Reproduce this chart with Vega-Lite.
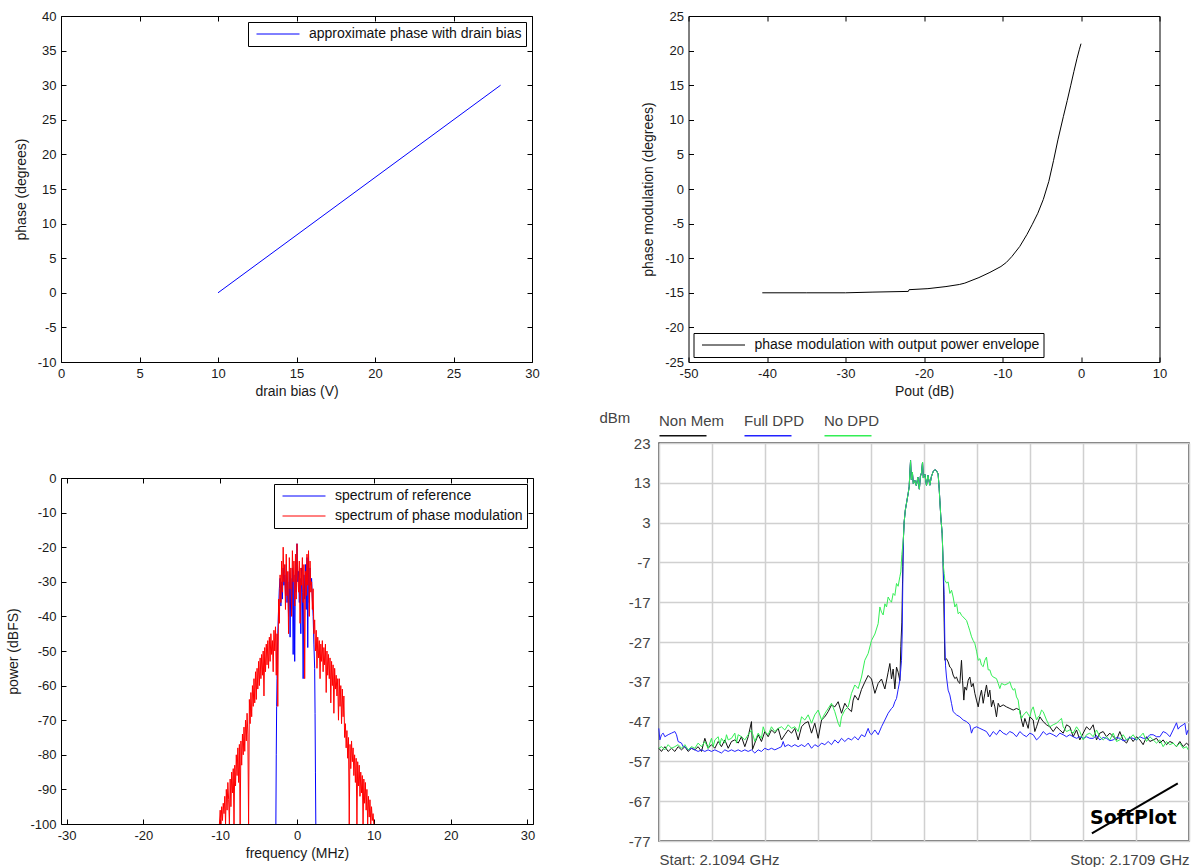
{
  "$schema": "https://vega.github.io/schema/vega-lite/v6.json",
  "background": "white",
  "padding": {"left": 6, "top": 9, "right": 0, "bottom": 0},
  "config": {
    "font": "Liberation Sans",
    "view": {"stroke": "black", "strokeWidth": 1},
    "axis": {"domain": false, "grid": false, "tickSize": -5, "tickColor": "black", "tickWidth": 1, "tickCount": 30, "labelFont": "Liberation Sans", "labelFontSize": 13, "labelColor": "#1a1a1a", "labelPadding": 10, "labelFlush": false, "labelOverlap": false, "labelExpr": "'' + datum.value", "titleFont": "Liberation Sans", "titleFontSize": 14, "titleFontWeight": "normal", "titleColor": "#1a1a1a", "titlePadding": 4},
    "axisY": {"titlePadding": 9},
    "legend": {"title": null, "strokeColor": "black", "fillColor": "white", "padding": 4, "cornerRadius": 0, "symbolType": "stroke", "symbolSize": 1849, "symbolStrokeWidth": 1, "symbolOffset": 4, "labelOffset": 9, "clipHeight": 16, "rowPadding": 4, "labelFont": "Liberation Sans", "labelFontSize": 14, "labelColor": "#111", "labelLimit": 500}
  },
  "datasets": {
    "tl": [{"bias": 10, "phase": 0}, {"bias": 28, "phase": 30}],
    "tr": [
      {"pout": -40.6, "phase": -15.0}, {"pout": -35, "phase": -15.0}, {"pout": -30, "phase": -15.0}, {"pout": -26.5, "phase": -14.9}, {"pout": -22, "phase": -14.8}, {"pout": -21.9, "phase": -14.55}, {"pout": -19.5, "phase": -14.4}, {"pout": -17.2, "phase": -14.1}, {"pout": -15.5, "phase": -13.8}, {"pout": -14.8, "phase": -13.6}, {"pout": -13, "phase": -12.8}, {"pout": -11.6, "phase": -12.05}, {"pout": -10.2, "phase": -11.2}, {"pout": -9.5, "phase": -10.6}, {"pout": -8.8, "phase": -9.75}, {"pout": -7.8, "phase": -8.3}, {"pout": -6.9, "phase": -6.6}, {"pout": -6.2, "phase": -5.1}, {"pout": -5.5, "phase": -3.5}, {"pout": -4.8, "phase": -1.5}, {"pout": -4.1, "phase": 1.1}, {"pout": -3.5, "phase": 4.1}, {"pout": -2.94, "phase": 7.1}, {"pout": -2.24, "phase": 10.5}, {"pout": -1.75, "phase": 12.8}, {"pout": -1.3, "phase": 15.0}, {"pout": -0.9, "phase": 17.0}, {"pout": -0.5, "phase": 18.9}, {"pout": -0.2, "phase": 20.2}, {"pout": 0, "phase": 21.0}
    ],
    "ref": [
      {"freq": -2.75, "power": -100}, {"freq": -2.7, "power": -80}, {"freq": -2.65, "power": -66}, {"freq": -2.6, "power": -58}, {"freq": -2.5, "power": -45}, {"freq": -2.4, "power": -38}, {"freq": -2.3, "power": -32}, {"freq": -2.2, "power": -29}, {"freq": -2.1, "power": -37}, {"freq": -2.0, "power": -30}, {"freq": -1.9, "power": -35}, {"freq": -1.8, "power": -26}, {"freq": -1.7, "power": -31}, {"freq": -1.6, "power": -28}, {"freq": -1.5, "power": -34}, {"freq": -1.4, "power": -25}, {"freq": -1.3, "power": -36}, {"freq": -1.2, "power": -30}, {"freq": -1.1, "power": -40}, {"freq": -1.0, "power": -27}, {"freq": -0.9, "power": -46}, {"freq": -0.8, "power": -29}, {"freq": -0.7, "power": -38}, {"freq": -0.6, "power": -26}, {"freq": -0.5, "power": -51}, {"freq": -0.4, "power": -28}, {"freq": -0.3, "power": -53}, {"freq": -0.2, "power": -24}, {"freq": -0.1, "power": -33}, {"freq": 0.0, "power": -19}, {"freq": 0.1, "power": -30}, {"freq": 0.2, "power": -27}, {"freq": 0.3, "power": -36}, {"freq": 0.4, "power": -29}, {"freq": 0.5, "power": -45}, {"freq": 0.6, "power": -26}, {"freq": 0.7, "power": -33}, {"freq": 0.8, "power": -58}, {"freq": 0.9, "power": -28}, {"freq": 1.0, "power": -35}, {"freq": 1.1, "power": -25}, {"freq": 1.2, "power": -38}, {"freq": 1.3, "power": -23}, {"freq": 1.4, "power": -49}, {"freq": 1.5, "power": -22}, {"freq": 1.6, "power": -36}, {"freq": 1.7, "power": -26}, {"freq": 1.8, "power": -31}, {"freq": 1.9, "power": -29}, {"freq": 2.0, "power": -35}, {"freq": 2.1, "power": -40}, {"freq": 2.2, "power": -48}, {"freq": 2.3, "power": -55}, {"freq": 2.35, "power": -68}, {"freq": 2.4, "power": -85}, {"freq": 2.45, "power": -100}
    ],
    "pm": [
      {"freq": -10.1, "power": -100}, {"freq": -10.0, "power": -96}, {"freq": -9.9, "power": -100}, {"freq": -9.8, "power": -95}, {"freq": -9.7, "power": -99}, {"freq": -9.6, "power": -94}, {"freq": -9.5, "power": -97}, {"freq": -9.4, "power": -92}, {"freq": -9.3, "power": -100}, {"freq": -9.2, "power": -90}, {"freq": -9.1, "power": -96}, {"freq": -9.0, "power": -88}, {"freq": -8.9, "power": -93}, {"freq": -8.8, "power": -100}, {"freq": -8.7, "power": -87}, {"freq": -8.6, "power": -95}, {"freq": -8.5, "power": -85}, {"freq": -8.4, "power": -91}, {"freq": -8.3, "power": -84}, {"freq": -8.2, "power": -100}, {"freq": -8.1, "power": -83}, {"freq": -8.0, "power": -89}, {"freq": -7.9, "power": -80}, {"freq": -7.8, "power": -86}, {"freq": -7.7, "power": -78}, {"freq": -7.6, "power": -88}, {"freq": -7.5, "power": -77}, {"freq": -7.4, "power": -100}, {"freq": -7.3, "power": -76}, {"freq": -7.2, "power": -83}, {"freq": -7.1, "power": -74}, {"freq": -7.0, "power": -80}, {"freq": -6.9, "power": -72}, {"freq": -6.8, "power": -79}, {"freq": -6.7, "power": -70}, {"freq": -6.6, "power": -76}, {"freq": -6.5, "power": -68}, {"freq": -6.4, "power": -74}, {"freq": -6.3, "power": -100}, {"freq": -6.2, "power": -64}, {"freq": -6.1, "power": -71}, {"freq": -6.0, "power": -62}, {"freq": -5.9, "power": -69}, {"freq": -5.8, "power": -60}, {"freq": -5.7, "power": -66}, {"freq": -5.6, "power": -58}, {"freq": -5.5, "power": -65}, {"freq": -5.4, "power": -56}, {"freq": -5.3, "power": -64}, {"freq": -5.2, "power": -55}, {"freq": -5.1, "power": -61}, {"freq": -5.0, "power": -53}, {"freq": -4.9, "power": -60}, {"freq": -4.8, "power": -52}, {"freq": -4.7, "power": -58}, {"freq": -4.6, "power": -51}, {"freq": -4.5, "power": -57}, {"freq": -4.4, "power": -50}, {"freq": -4.3, "power": -63}, {"freq": -4.2, "power": -49}, {"freq": -4.1, "power": -56}, {"freq": -4.0, "power": -48}, {"freq": -3.9, "power": -54}, {"freq": -3.8, "power": -47}, {"freq": -3.7, "power": -55}, {"freq": -3.6, "power": -46}, {"freq": -3.5, "power": -53}, {"freq": -3.4, "power": -45}, {"freq": -3.3, "power": -51}, {"freq": -3.2, "power": -47}, {"freq": -3.1, "power": -56}, {"freq": -3.0, "power": -44}, {"freq": -2.9, "power": -50}, {"freq": -2.8, "power": -43}, {"freq": -2.7, "power": -57}, {"freq": -2.6, "power": -45}, {"freq": -2.5, "power": -66}, {"freq": -2.4, "power": -35}, {"freq": -2.3, "power": -42}, {"freq": -2.2, "power": -28}, {"freq": -2.1, "power": -36}, {"freq": -2.0, "power": -24}, {"freq": -1.9, "power": -33}, {"freq": -1.8, "power": -20}, {"freq": -1.7, "power": -30}, {"freq": -1.6, "power": -25}, {"freq": -1.5, "power": -38}, {"freq": -1.4, "power": -22}, {"freq": -1.3, "power": -34}, {"freq": -1.2, "power": -27}, {"freq": -1.1, "power": -45}, {"freq": -1.0, "power": -23}, {"freq": -0.9, "power": -32}, {"freq": -0.8, "power": -26}, {"freq": -0.7, "power": -40}, {"freq": -0.6, "power": -21}, {"freq": -0.5, "power": -30}, {"freq": -0.4, "power": -24}, {"freq": -0.3, "power": -37}, {"freq": -0.2, "power": -22}, {"freq": -0.1, "power": -35}, {"freq": 0.0, "power": -19}, {"freq": 0.1, "power": -28}, {"freq": 0.2, "power": -33}, {"freq": 0.3, "power": -24}, {"freq": 0.4, "power": -42}, {"freq": 0.5, "power": -26}, {"freq": 0.6, "power": -31}, {"freq": 0.7, "power": -23}, {"freq": 0.8, "power": -36}, {"freq": 0.9, "power": -25}, {"freq": 1.0, "power": -58}, {"freq": 1.1, "power": -27}, {"freq": 1.2, "power": -34}, {"freq": 1.3, "power": -22}, {"freq": 1.4, "power": -31}, {"freq": 1.5, "power": -21}, {"freq": 1.6, "power": -40}, {"freq": 1.7, "power": -24}, {"freq": 1.8, "power": -33}, {"freq": 1.9, "power": -30}, {"freq": 2.0, "power": -38}, {"freq": 2.1, "power": -32}, {"freq": 2.2, "power": -45}, {"freq": 2.3, "power": -41}, {"freq": 2.4, "power": -50}, {"freq": 2.5, "power": -44}, {"freq": 2.6, "power": -55}, {"freq": 2.7, "power": -46}, {"freq": 2.8, "power": -52}, {"freq": 2.9, "power": -47}, {"freq": 3.0, "power": -58}, {"freq": 3.1, "power": -48}, {"freq": 3.2, "power": -53}, {"freq": 3.3, "power": -47}, {"freq": 3.4, "power": -56}, {"freq": 3.5, "power": -49}, {"freq": 3.6, "power": -54}, {"freq": 3.7, "power": -48}, {"freq": 3.8, "power": -62}, {"freq": 3.9, "power": -50}, {"freq": 4.0, "power": -57}, {"freq": 4.1, "power": -51}, {"freq": 4.2, "power": -58}, {"freq": 4.3, "power": -52}, {"freq": 4.4, "power": -65}, {"freq": 4.5, "power": -53}, {"freq": 4.6, "power": -60}, {"freq": 4.7, "power": -54}, {"freq": 4.8, "power": -68}, {"freq": 4.9, "power": -55}, {"freq": 5.0, "power": -61}, {"freq": 5.1, "power": -57}, {"freq": 5.2, "power": -63}, {"freq": 5.3, "power": -58}, {"freq": 5.4, "power": -70}, {"freq": 5.5, "power": -58}, {"freq": 5.6, "power": -66}, {"freq": 5.7, "power": -60}, {"freq": 5.8, "power": -71}, {"freq": 5.9, "power": -61}, {"freq": 6.0, "power": -69}, {"freq": 6.1, "power": -63}, {"freq": 6.2, "power": -75}, {"freq": 6.3, "power": -71}, {"freq": 6.4, "power": -78}, {"freq": 6.5, "power": -73}, {"freq": 6.6, "power": -81}, {"freq": 6.7, "power": -75}, {"freq": 6.8, "power": -100}, {"freq": 6.9, "power": -77}, {"freq": 7.0, "power": -84}, {"freq": 7.1, "power": -76}, {"freq": 7.2, "power": -82}, {"freq": 7.3, "power": -78}, {"freq": 7.4, "power": -86}, {"freq": 7.5, "power": -80}, {"freq": 7.6, "power": -88}, {"freq": 7.7, "power": -81}, {"freq": 7.8, "power": -100}, {"freq": 7.9, "power": -82}, {"freq": 8.0, "power": -89}, {"freq": 8.1, "power": -83}, {"freq": 8.2, "power": -92}, {"freq": 8.3, "power": -85}, {"freq": 8.4, "power": -91}, {"freq": 8.5, "power": -86}, {"freq": 8.6, "power": -100}, {"freq": 8.7, "power": -87}, {"freq": 8.8, "power": -94}, {"freq": 8.9, "power": -88}, {"freq": 9.0, "power": -96}, {"freq": 9.1, "power": -90}, {"freq": 9.2, "power": -100}, {"freq": 9.3, "power": -92}, {"freq": 9.4, "power": -98}, {"freq": 9.5, "power": -93}, {"freq": 9.6, "power": -100}, {"freq": 9.7, "power": -95}, {"freq": 9.8, "power": -99}, {"freq": 9.9, "power": -97}, {"freq": 10.0, "power": -100}
    ],
    "nonmem": [
      {"freq": 2109.38, "dbm": -53.7}, {"freq": 2109.69, "dbm": -54.5}, {"freq": 2110.08, "dbm": -53.3}, {"freq": 2110.46, "dbm": -54.5}, {"freq": 2110.85, "dbm": -53.7}, {"freq": 2111.24, "dbm": -54.5}, {"freq": 2111.62, "dbm": -53.3}, {"freq": 2112.01, "dbm": -54.1}, {"freq": 2112.40, "dbm": -53.3}, {"freq": 2112.78, "dbm": -54.5}, {"freq": 2113.17, "dbm": -53.7}, {"freq": 2113.56, "dbm": -54.1}, {"freq": 2113.94, "dbm": -53.3}, {"freq": 2114.33, "dbm": -54.5}, {"freq": 2114.72, "dbm": -51.2}, {"freq": 2115.10, "dbm": -53.7}, {"freq": 2115.49, "dbm": -52.8}, {"freq": 2115.88, "dbm": -53.7}, {"freq": 2116.27, "dbm": -52.0}, {"freq": 2116.65, "dbm": -53.3}, {"freq": 2117.04, "dbm": -51.6}, {"freq": 2117.43, "dbm": -53.7}, {"freq": 2117.81, "dbm": -52.0}, {"freq": 2118.20, "dbm": -51.6}, {"freq": 2118.59, "dbm": -52.4}, {"freq": 2118.97, "dbm": -50.8}, {"freq": 2119.36, "dbm": -53.3}, {"freq": 2119.75, "dbm": -50.8}, {"freq": 2120.13, "dbm": -47.0}, {"freq": 2120.25, "dbm": -54.0}, {"freq": 2120.52, "dbm": -52.4}, {"freq": 2120.91, "dbm": -50.3}, {"freq": 2121.29, "dbm": -52.0}, {"freq": 2121.68, "dbm": -49.5}, {"freq": 2122.07, "dbm": -50.8}, {"freq": 2122.45, "dbm": -49.1}, {"freq": 2122.84, "dbm": -49.9}, {"freq": 2123.23, "dbm": -48.7}, {"freq": 2123.61, "dbm": -51.6}, {"freq": 2124.00, "dbm": -50.3}, {"freq": 2124.39, "dbm": -49.1}, {"freq": 2124.78, "dbm": -49.9}, {"freq": 2125.16, "dbm": -48.7}, {"freq": 2125.55, "dbm": -51.6}, {"freq": 2125.94, "dbm": -48.3}, {"freq": 2126.32, "dbm": -47.4}, {"freq": 2126.71, "dbm": -47.0}, {"freq": 2127.10, "dbm": -49.9}, {"freq": 2127.48, "dbm": -47.4}, {"freq": 2127.87, "dbm": -51.2}, {"freq": 2128.26, "dbm": -46.6}, {"freq": 2128.64, "dbm": -45.8}, {"freq": 2129.03, "dbm": -44.5}, {"freq": 2129.42, "dbm": -42.8}, {"freq": 2129.80, "dbm": -43.3}, {"freq": 2130.19, "dbm": -42.0}, {"freq": 2130.58, "dbm": -44.9}, {"freq": 2130.96, "dbm": -42.4}, {"freq": 2131.35, "dbm": -43.7}, {"freq": 2131.74, "dbm": -44.5}, {"freq": 2131.93, "dbm": -41.6}, {"freq": 2132.12, "dbm": -40.4}, {"freq": 2132.51, "dbm": -41.6}, {"freq": 2132.90, "dbm": -38.9}, {"freq": 2133.28, "dbm": -37.1}, {"freq": 2133.67, "dbm": -35.4}, {"freq": 2134.06, "dbm": -36.3}, {"freq": 2134.45, "dbm": -39.9}, {"freq": 2134.83, "dbm": -37.4}, {"freq": 2135.22, "dbm": -36.3}, {"freq": 2135.61, "dbm": -38.8}, {"freq": 2135.99, "dbm": -34.6}, {"freq": 2136.19, "dbm": -32.4}, {"freq": 2136.38, "dbm": -36.3}, {"freq": 2136.57, "dbm": -33.8}, {"freq": 2136.77, "dbm": -38.8}, {"freq": 2136.96, "dbm": -33.3}, {"freq": 2137.15, "dbm": -34.6}, {"freq": 2137.35, "dbm": -36.7}, {"freq": 2137.46, "dbm": -28.2}, {"freq": 2137.58, "dbm": -22.0}, {"freq": 2137.69, "dbm": -8.0},
      {"freq": 2137.75, "dbm": -1.4}, {"freq": 2137.85, "dbm": 3.2}, {"freq": 2137.98, "dbm": 6.1}, {"freq": 2138.16, "dbm": 8.4}, {"freq": 2138.31, "dbm": 10.3}, {"freq": 2138.43, "dbm": 12.0}, {"freq": 2138.51, "dbm": 15.5}, {"freq": 2138.59, "dbm": 18.6}, {"freq": 2138.68, "dbm": 13.8}, {"freq": 2138.80, "dbm": 15.7}, {"freq": 2138.91, "dbm": 12.8}, {"freq": 2139.09, "dbm": 13.6}, {"freq": 2139.26, "dbm": 12.3}, {"freq": 2139.44, "dbm": 14.4}, {"freq": 2139.61, "dbm": 11.4}, {"freq": 2139.73, "dbm": 14.6}, {"freq": 2139.86, "dbm": 15.5}, {"freq": 2139.98, "dbm": 18.2}, {"freq": 2140.07, "dbm": 14.2}, {"freq": 2140.25, "dbm": 15.1}, {"freq": 2140.44, "dbm": 12.3}, {"freq": 2140.60, "dbm": 14.9}, {"freq": 2140.83, "dbm": 12.4}, {"freq": 2141.00, "dbm": 14.5}, {"freq": 2141.21, "dbm": 15.8}, {"freq": 2141.41, "dbm": 16.3}, {"freq": 2141.61, "dbm": 16.0}, {"freq": 2141.79, "dbm": 15.2}, {"freq": 2141.91, "dbm": 11.6}, {"freq": 2141.99, "dbm": 8.6}, {"freq": 2142.10, "dbm": 4.4}, {"freq": 2142.26, "dbm": 0.2}, {"freq": 2142.37, "dbm": -7.3},
      {"freq": 2142.49, "dbm": -22.0}, {"freq": 2142.57, "dbm": -31.6}, {"freq": 2142.76, "dbm": -31.2}, {"freq": 2142.95, "dbm": -32.0}, {"freq": 2143.15, "dbm": -33.3}, {"freq": 2143.34, "dbm": -33.7}, {"freq": 2143.53, "dbm": -35.3}, {"freq": 2143.73, "dbm": -36.2}, {"freq": 2143.92, "dbm": -35.8}, {"freq": 2144.12, "dbm": -37.0}, {"freq": 2144.31, "dbm": -37.4}, {"freq": 2144.50, "dbm": -31.6}, {"freq": 2144.62, "dbm": -36.6}, {"freq": 2144.77, "dbm": -41.6}, {"freq": 2144.89, "dbm": -38.3}, {"freq": 2145.08, "dbm": -39.1}, {"freq": 2145.28, "dbm": -36.6}, {"freq": 2145.47, "dbm": -35.8}, {"freq": 2145.66, "dbm": -38.3}, {"freq": 2145.86, "dbm": -37.4}, {"freq": 2146.05, "dbm": -39.9}, {"freq": 2146.24, "dbm": -41.6}, {"freq": 2146.44, "dbm": -43.3}, {"freq": 2146.63, "dbm": -40.8}, {"freq": 2146.82, "dbm": -39.1}, {"freq": 2147.02, "dbm": -42.4}, {"freq": 2147.21, "dbm": -39.9}, {"freq": 2147.40, "dbm": -37.8}, {"freq": 2147.60, "dbm": -40.8}, {"freq": 2147.79, "dbm": -39.1}, {"freq": 2147.98, "dbm": -43.3}, {"freq": 2148.18, "dbm": -41.6}, {"freq": 2148.37, "dbm": -43.3}, {"freq": 2148.56, "dbm": -45.8}, {"freq": 2148.76, "dbm": -42.4}, {"freq": 2148.95, "dbm": -43.3}, {"freq": 2149.34, "dbm": -42.8}, {"freq": 2149.72, "dbm": -43.3}, {"freq": 2150.11, "dbm": -43.7}, {"freq": 2150.50, "dbm": -44.1}, {"freq": 2150.88, "dbm": -43.7}, {"freq": 2151.27, "dbm": -44.1}, {"freq": 2151.46, "dbm": -46.6}, {"freq": 2151.66, "dbm": -48.3}, {"freq": 2151.85, "dbm": -46.2}, {"freq": 2152.04, "dbm": -47.4}, {"freq": 2152.24, "dbm": -48.7}, {"freq": 2152.43, "dbm": -45.8}, {"freq": 2152.82, "dbm": -46.6}, {"freq": 2153.01, "dbm": -49.5}, {"freq": 2153.21, "dbm": -48.3}, {"freq": 2153.59, "dbm": -45.8}, {"freq": 2153.98, "dbm": -47.0}, {"freq": 2154.37, "dbm": -47.8}, {"freq": 2154.75, "dbm": -48.3}, {"freq": 2155.14, "dbm": -49.5}, {"freq": 2155.53, "dbm": -48.3}, {"freq": 2155.91, "dbm": -49.1}, {"freq": 2156.30, "dbm": -49.9}, {"freq": 2156.69, "dbm": -47.8}, {"freq": 2157.07, "dbm": -48.3}, {"freq": 2157.46, "dbm": -50.8}, {"freq": 2157.85, "dbm": -49.1}, {"freq": 2158.23, "dbm": -51.6}, {"freq": 2158.62, "dbm": -49.9}, {"freq": 2159.01, "dbm": -48.3}, {"freq": 2159.39, "dbm": -49.1}, {"freq": 2159.78, "dbm": -47.8}, {"freq": 2160.17, "dbm": -51.6}, {"freq": 2160.55, "dbm": -49.9}, {"freq": 2160.94, "dbm": -49.5}, {"freq": 2161.33, "dbm": -50.8}, {"freq": 2161.71, "dbm": -49.9}, {"freq": 2162.10, "dbm": -50.8}, {"freq": 2162.49, "dbm": -51.6}, {"freq": 2162.87, "dbm": -49.5}, {"freq": 2163.26, "dbm": -51.6}, {"freq": 2163.65, "dbm": -52.4}, {"freq": 2164.03, "dbm": -50.8}, {"freq": 2164.42, "dbm": -52.0}, {"freq": 2164.81, "dbm": -50.8}, {"freq": 2165.20, "dbm": -51.6}, {"freq": 2165.58, "dbm": -52.8}, {"freq": 2165.97, "dbm": -50.8}, {"freq": 2166.36, "dbm": -52.0}, {"freq": 2166.74, "dbm": -51.6}, {"freq": 2167.13, "dbm": -51.2}, {"freq": 2167.52, "dbm": -52.4}, {"freq": 2167.90, "dbm": -51.6}, {"freq": 2168.29, "dbm": -52.8}, {"freq": 2168.68, "dbm": -52.0}, {"freq": 2169.06, "dbm": -52.4}, {"freq": 2169.45, "dbm": -53.3}, {"freq": 2169.84, "dbm": -52.0}, {"freq": 2170.22, "dbm": -53.3}, {"freq": 2170.61, "dbm": -52.4}, {"freq": 2170.90, "dbm": -53.0}
    ],
    "fulldpd": [
      {"freq": 2109.38, "dbm": -48.7}, {"freq": 2109.50, "dbm": -51.6}, {"freq": 2109.69, "dbm": -50.3}, {"freq": 2109.88, "dbm": -49.9}, {"freq": 2110.08, "dbm": -50.8}, {"freq": 2110.46, "dbm": -50.3}, {"freq": 2110.85, "dbm": -49.9}, {"freq": 2111.24, "dbm": -49.5}, {"freq": 2111.43, "dbm": -50.3}, {"freq": 2111.62, "dbm": -52.0}, {"freq": 2112.01, "dbm": -52.4}, {"freq": 2112.20, "dbm": -53.3}, {"freq": 2112.40, "dbm": -53.3}, {"freq": 2112.78, "dbm": -54.1}, {"freq": 2113.17, "dbm": -53.7}, {"freq": 2113.56, "dbm": -54.1}, {"freq": 2113.94, "dbm": -54.5}, {"freq": 2114.33, "dbm": -54.1}, {"freq": 2114.72, "dbm": -54.5}, {"freq": 2115.10, "dbm": -54.1}, {"freq": 2115.49, "dbm": -54.5}, {"freq": 2115.88, "dbm": -54.1}, {"freq": 2116.27, "dbm": -54.5}, {"freq": 2116.65, "dbm": -54.9}, {"freq": 2117.04, "dbm": -54.1}, {"freq": 2117.43, "dbm": -54.5}, {"freq": 2117.81, "dbm": -54.1}, {"freq": 2118.20, "dbm": -54.5}, {"freq": 2118.59, "dbm": -54.1}, {"freq": 2118.97, "dbm": -54.5}, {"freq": 2119.36, "dbm": -54.1}, {"freq": 2119.75, "dbm": -54.5}, {"freq": 2120.13, "dbm": -54.1}, {"freq": 2120.52, "dbm": -54.9}, {"freq": 2120.91, "dbm": -54.1}, {"freq": 2121.29, "dbm": -54.5}, {"freq": 2121.68, "dbm": -53.7}, {"freq": 2122.07, "dbm": -54.1}, {"freq": 2122.45, "dbm": -53.7}, {"freq": 2122.84, "dbm": -54.1}, {"freq": 2123.23, "dbm": -53.7}, {"freq": 2123.61, "dbm": -53.3}, {"freq": 2123.81, "dbm": -52.0}, {"freq": 2124.00, "dbm": -53.3}, {"freq": 2124.39, "dbm": -52.8}, {"freq": 2124.78, "dbm": -53.3}, {"freq": 2125.16, "dbm": -52.8}, {"freq": 2125.55, "dbm": -53.3}, {"freq": 2125.94, "dbm": -52.8}, {"freq": 2126.32, "dbm": -53.3}, {"freq": 2126.71, "dbm": -52.4}, {"freq": 2127.10, "dbm": -53.7}, {"freq": 2127.48, "dbm": -52.8}, {"freq": 2127.87, "dbm": -53.3}, {"freq": 2128.26, "dbm": -52.4}, {"freq": 2128.64, "dbm": -52.8}, {"freq": 2129.03, "dbm": -52.0}, {"freq": 2129.42, "dbm": -52.8}, {"freq": 2129.80, "dbm": -51.6}, {"freq": 2130.19, "dbm": -52.4}, {"freq": 2130.58, "dbm": -51.2}, {"freq": 2130.96, "dbm": -52.0}, {"freq": 2131.35, "dbm": -51.2}, {"freq": 2131.74, "dbm": -51.6}, {"freq": 2132.12, "dbm": -50.8}, {"freq": 2132.51, "dbm": -51.6}, {"freq": 2132.90, "dbm": -50.3}, {"freq": 2133.28, "dbm": -50.8}, {"freq": 2133.67, "dbm": -48.7}, {"freq": 2133.86, "dbm": -49.9}, {"freq": 2134.06, "dbm": -50.3}, {"freq": 2134.45, "dbm": -49.1}, {"freq": 2134.83, "dbm": -50.3}, {"freq": 2135.22, "dbm": -48.3}, {"freq": 2135.61, "dbm": -46.6}, {"freq": 2135.99, "dbm": -44.9}, {"freq": 2136.38, "dbm": -43.7}, {"freq": 2136.57, "dbm": -43.3}, {"freq": 2136.77, "dbm": -42.0}, {"freq": 2136.96, "dbm": -41.2}, {"freq": 2137.15, "dbm": -38.9}, {"freq": 2137.35, "dbm": -36.6}, {"freq": 2137.54, "dbm": -31.6}, {"freq": 2137.62, "dbm": -25.0}, {"freq": 2137.69, "dbm": -12.0},
      {"freq": 2137.75, "dbm": -1.4}, {"freq": 2137.85, "dbm": 3.2}, {"freq": 2137.98, "dbm": 6.1}, {"freq": 2138.16, "dbm": 8.4}, {"freq": 2138.31, "dbm": 10.3}, {"freq": 2138.43, "dbm": 12.0}, {"freq": 2138.51, "dbm": 15.5}, {"freq": 2138.59, "dbm": 18.6}, {"freq": 2138.68, "dbm": 13.8}, {"freq": 2138.80, "dbm": 15.7}, {"freq": 2138.91, "dbm": 12.8}, {"freq": 2139.09, "dbm": 13.6}, {"freq": 2139.26, "dbm": 12.3}, {"freq": 2139.44, "dbm": 14.4}, {"freq": 2139.61, "dbm": 11.4}, {"freq": 2139.73, "dbm": 14.6}, {"freq": 2139.86, "dbm": 15.5}, {"freq": 2139.98, "dbm": 18.2}, {"freq": 2140.07, "dbm": 14.2}, {"freq": 2140.25, "dbm": 15.1}, {"freq": 2140.44, "dbm": 12.3}, {"freq": 2140.60, "dbm": 14.9}, {"freq": 2140.83, "dbm": 12.4}, {"freq": 2141.00, "dbm": 14.5}, {"freq": 2141.21, "dbm": 15.8}, {"freq": 2141.41, "dbm": 16.3}, {"freq": 2141.61, "dbm": 16.0}, {"freq": 2141.79, "dbm": 15.2}, {"freq": 2141.91, "dbm": 11.6}, {"freq": 2141.99, "dbm": 8.6}, {"freq": 2142.10, "dbm": 4.4}, {"freq": 2142.26, "dbm": 0.2}, {"freq": 2142.37, "dbm": -7.3},
      {"freq": 2142.49, "dbm": -15.0}, {"freq": 2142.57, "dbm": -27.0}, {"freq": 2142.65, "dbm": -33.0}, {"freq": 2142.76, "dbm": -35.8}, {"freq": 2142.95, "dbm": -39.1}, {"freq": 2143.15, "dbm": -40.3}, {"freq": 2143.34, "dbm": -42.4}, {"freq": 2143.53, "dbm": -44.5}, {"freq": 2143.92, "dbm": -45.3}, {"freq": 2144.31, "dbm": -45.8}, {"freq": 2144.70, "dbm": -46.6}, {"freq": 2145.08, "dbm": -47.0}, {"freq": 2145.47, "dbm": -47.8}, {"freq": 2145.66, "dbm": -49.9}, {"freq": 2145.86, "dbm": -48.7}, {"freq": 2146.24, "dbm": -48.3}, {"freq": 2146.63, "dbm": -48.7}, {"freq": 2147.02, "dbm": -49.1}, {"freq": 2147.40, "dbm": -49.5}, {"freq": 2147.79, "dbm": -50.8}, {"freq": 2148.18, "dbm": -49.5}, {"freq": 2148.56, "dbm": -50.3}, {"freq": 2148.95, "dbm": -49.1}, {"freq": 2149.34, "dbm": -49.9}, {"freq": 2149.72, "dbm": -50.3}, {"freq": 2150.11, "dbm": -49.5}, {"freq": 2150.50, "dbm": -49.9}, {"freq": 2150.88, "dbm": -50.8}, {"freq": 2151.27, "dbm": -49.5}, {"freq": 2151.66, "dbm": -50.3}, {"freq": 2152.04, "dbm": -50.8}, {"freq": 2152.43, "dbm": -49.9}, {"freq": 2152.82, "dbm": -50.3}, {"freq": 2153.21, "dbm": -51.6}, {"freq": 2153.59, "dbm": -50.8}, {"freq": 2153.98, "dbm": -49.5}, {"freq": 2154.37, "dbm": -50.3}, {"freq": 2154.75, "dbm": -49.9}, {"freq": 2155.14, "dbm": -50.3}, {"freq": 2155.53, "dbm": -50.8}, {"freq": 2155.91, "dbm": -49.9}, {"freq": 2156.30, "dbm": -50.3}, {"freq": 2156.69, "dbm": -50.8}, {"freq": 2157.07, "dbm": -50.3}, {"freq": 2157.46, "dbm": -50.8}, {"freq": 2157.85, "dbm": -51.2}, {"freq": 2158.23, "dbm": -50.8}, {"freq": 2158.62, "dbm": -51.2}, {"freq": 2159.01, "dbm": -50.8}, {"freq": 2159.39, "dbm": -51.2}, {"freq": 2159.78, "dbm": -51.2}, {"freq": 2160.17, "dbm": -50.5}, {"freq": 2160.55, "dbm": -51.6}, {"freq": 2160.94, "dbm": -51.0}, {"freq": 2161.33, "dbm": -51.2}, {"freq": 2161.71, "dbm": -51.8}, {"freq": 2162.10, "dbm": -51.6}, {"freq": 2162.49, "dbm": -51.0}, {"freq": 2162.87, "dbm": -51.2}, {"freq": 2163.26, "dbm": -51.8}, {"freq": 2163.65, "dbm": -51.6}, {"freq": 2164.03, "dbm": -51.0}, {"freq": 2164.42, "dbm": -51.2}, {"freq": 2164.81, "dbm": -51.6}, {"freq": 2165.20, "dbm": -50.8}, {"freq": 2165.58, "dbm": -51.2}, {"freq": 2165.97, "dbm": -51.2}, {"freq": 2166.36, "dbm": -50.3}, {"freq": 2166.74, "dbm": -50.3}, {"freq": 2167.13, "dbm": -50.8}, {"freq": 2167.52, "dbm": -50.8}, {"freq": 2167.90, "dbm": -49.5}, {"freq": 2168.29, "dbm": -49.9}, {"freq": 2168.68, "dbm": -50.8}, {"freq": 2169.06, "dbm": -49.1}, {"freq": 2169.45, "dbm": -47.3}, {"freq": 2169.64, "dbm": -48.9}, {"freq": 2169.84, "dbm": -48.3}, {"freq": 2170.22, "dbm": -47.8}, {"freq": 2170.42, "dbm": -47.4}, {"freq": 2170.61, "dbm": -50.3}, {"freq": 2170.80, "dbm": -49.1}
    ],
    "nodpd": [
      {"freq": 2109.38, "dbm": -53.7}, {"freq": 2109.69, "dbm": -53.3}, {"freq": 2110.08, "dbm": -54.1}, {"freq": 2110.46, "dbm": -52.8}, {"freq": 2110.85, "dbm": -53.7}, {"freq": 2111.24, "dbm": -53.3}, {"freq": 2111.62, "dbm": -52.8}, {"freq": 2112.01, "dbm": -53.7}, {"freq": 2112.40, "dbm": -52.8}, {"freq": 2112.78, "dbm": -54.1}, {"freq": 2113.17, "dbm": -53.3}, {"freq": 2113.56, "dbm": -53.7}, {"freq": 2113.94, "dbm": -52.4}, {"freq": 2114.33, "dbm": -53.3}, {"freq": 2114.72, "dbm": -52.0}, {"freq": 2115.10, "dbm": -53.7}, {"freq": 2115.49, "dbm": -51.2}, {"freq": 2115.69, "dbm": -53.3}, {"freq": 2115.88, "dbm": -51.6}, {"freq": 2116.27, "dbm": -50.8}, {"freq": 2116.46, "dbm": -52.8}, {"freq": 2116.65, "dbm": -51.2}, {"freq": 2117.04, "dbm": -52.4}, {"freq": 2117.23, "dbm": -50.3}, {"freq": 2117.43, "dbm": -51.6}, {"freq": 2117.81, "dbm": -51.2}, {"freq": 2118.20, "dbm": -49.9}, {"freq": 2118.39, "dbm": -52.4}, {"freq": 2118.59, "dbm": -50.3}, {"freq": 2118.97, "dbm": -50.8}, {"freq": 2119.36, "dbm": -51.6}, {"freq": 2119.75, "dbm": -50.3}, {"freq": 2120.13, "dbm": -49.1}, {"freq": 2120.52, "dbm": -52.0}, {"freq": 2120.91, "dbm": -49.9}, {"freq": 2121.29, "dbm": -51.2}, {"freq": 2121.49, "dbm": -48.3}, {"freq": 2121.68, "dbm": -49.5}, {"freq": 2122.07, "dbm": -50.3}, {"freq": 2122.45, "dbm": -48.3}, {"freq": 2122.84, "dbm": -49.5}, {"freq": 2123.23, "dbm": -48.7}, {"freq": 2123.61, "dbm": -48.3}, {"freq": 2124.00, "dbm": -49.1}, {"freq": 2124.39, "dbm": -47.8}, {"freq": 2124.78, "dbm": -48.7}, {"freq": 2125.16, "dbm": -48.3}, {"freq": 2125.55, "dbm": -49.5}, {"freq": 2125.94, "dbm": -45.8}, {"freq": 2126.32, "dbm": -46.6}, {"freq": 2126.71, "dbm": -45.3}, {"freq": 2127.10, "dbm": -47.4}, {"freq": 2127.48, "dbm": -45.3}, {"freq": 2127.87, "dbm": -44.1}, {"freq": 2128.26, "dbm": -46.6}, {"freq": 2128.64, "dbm": -45.0}, {"freq": 2129.03, "dbm": -43.7}, {"freq": 2129.42, "dbm": -42.4}, {"freq": 2129.80, "dbm": -44.5}, {"freq": 2130.19, "dbm": -47.4}, {"freq": 2130.39, "dbm": -48.3}, {"freq": 2130.58, "dbm": -45.8}, {"freq": 2130.96, "dbm": -44.1}, {"freq": 2131.35, "dbm": -43.3}, {"freq": 2131.74, "dbm": -39.9}, {"freq": 2132.12, "dbm": -37.8}, {"freq": 2132.51, "dbm": -38.7}, {"freq": 2132.90, "dbm": -35.8}, {"freq": 2133.28, "dbm": -31.6}, {"freq": 2133.67, "dbm": -29.9}, {"freq": 2134.06, "dbm": -26.6}, {"freq": 2134.45, "dbm": -25.0}, {"freq": 2134.83, "dbm": -22.4}, {"freq": 2135.03, "dbm": -18.2}, {"freq": 2135.22, "dbm": -19.5}, {"freq": 2135.41, "dbm": -20.2}, {"freq": 2135.61, "dbm": -17.4}, {"freq": 2135.80, "dbm": -18.2}, {"freq": 2135.99, "dbm": -15.7}, {"freq": 2136.19, "dbm": -16.5}, {"freq": 2136.38, "dbm": -17.0}, {"freq": 2136.57, "dbm": -14.8}, {"freq": 2136.77, "dbm": -15.3}, {"freq": 2136.96, "dbm": -12.3}, {"freq": 2137.15, "dbm": -13.0}, {"freq": 2137.35, "dbm": -10.6}, {"freq": 2137.46, "dbm": -9.4}, {"freq": 2137.58, "dbm": -5.0},
      {"freq": 2137.75, "dbm": -1.4}, {"freq": 2137.85, "dbm": 3.2}, {"freq": 2137.98, "dbm": 6.1}, {"freq": 2138.16, "dbm": 8.4}, {"freq": 2138.31, "dbm": 10.3}, {"freq": 2138.43, "dbm": 12.0}, {"freq": 2138.51, "dbm": 15.5}, {"freq": 2138.59, "dbm": 18.6}, {"freq": 2138.68, "dbm": 13.8}, {"freq": 2138.80, "dbm": 15.7}, {"freq": 2138.91, "dbm": 12.8}, {"freq": 2139.09, "dbm": 13.6}, {"freq": 2139.26, "dbm": 12.3}, {"freq": 2139.44, "dbm": 14.4}, {"freq": 2139.61, "dbm": 11.4}, {"freq": 2139.73, "dbm": 14.6}, {"freq": 2139.86, "dbm": 15.5}, {"freq": 2139.98, "dbm": 18.2}, {"freq": 2140.07, "dbm": 14.2}, {"freq": 2140.25, "dbm": 15.1}, {"freq": 2140.44, "dbm": 12.3}, {"freq": 2140.60, "dbm": 14.9}, {"freq": 2140.83, "dbm": 12.4}, {"freq": 2141.00, "dbm": 14.5}, {"freq": 2141.21, "dbm": 15.8}, {"freq": 2141.41, "dbm": 16.3}, {"freq": 2141.61, "dbm": 16.0}, {"freq": 2141.79, "dbm": 15.2}, {"freq": 2141.91, "dbm": 11.6}, {"freq": 2141.99, "dbm": 8.6}, {"freq": 2142.10, "dbm": 4.4}, {"freq": 2142.26, "dbm": 0.2}, {"freq": 2142.37, "dbm": -7.3},
      {"freq": 2142.49, "dbm": -9.8}, {"freq": 2142.57, "dbm": -11.5}, {"freq": 2142.77, "dbm": -12.2}, {"freq": 2142.95, "dbm": -11.9}, {"freq": 2143.15, "dbm": -14.8}, {"freq": 2143.35, "dbm": -14.0}, {"freq": 2143.53, "dbm": -15.7}, {"freq": 2143.73, "dbm": -18.2}, {"freq": 2143.93, "dbm": -17.4}, {"freq": 2144.11, "dbm": -19.9}, {"freq": 2144.31, "dbm": -19.5}, {"freq": 2144.51, "dbm": -20.3}, {"freq": 2144.69, "dbm": -20.7}, {"freq": 2145.09, "dbm": -21.6}, {"freq": 2145.27, "dbm": -22.8}, {"freq": 2145.47, "dbm": -24.2}, {"freq": 2145.67, "dbm": -25.7}, {"freq": 2145.85, "dbm": -26.6}, {"freq": 2146.05, "dbm": -27.4}, {"freq": 2146.25, "dbm": -29.3}, {"freq": 2146.44, "dbm": -31.6}, {"freq": 2146.63, "dbm": -31.2}, {"freq": 2146.82, "dbm": -32.8}, {"freq": 2147.02, "dbm": -33.2}, {"freq": 2147.21, "dbm": -31.6}, {"freq": 2147.40, "dbm": -30.8}, {"freq": 2147.60, "dbm": -34.0}, {"freq": 2147.79, "dbm": -34.0}, {"freq": 2147.98, "dbm": -35.3}, {"freq": 2148.18, "dbm": -35.8}, {"freq": 2148.56, "dbm": -36.2}, {"freq": 2148.76, "dbm": -37.4}, {"freq": 2148.95, "dbm": -38.7}, {"freq": 2149.14, "dbm": -37.4}, {"freq": 2149.53, "dbm": -37.8}, {"freq": 2149.92, "dbm": -37.4}, {"freq": 2150.11, "dbm": -37.0}, {"freq": 2150.30, "dbm": -38.3}, {"freq": 2150.50, "dbm": -39.1}, {"freq": 2150.69, "dbm": -38.7}, {"freq": 2150.88, "dbm": -40.8}, {"freq": 2151.08, "dbm": -41.6}, {"freq": 2151.27, "dbm": -44.9}, {"freq": 2151.46, "dbm": -46.2}, {"freq": 2151.66, "dbm": -45.4}, {"freq": 2152.04, "dbm": -44.5}, {"freq": 2152.43, "dbm": -45.8}, {"freq": 2152.62, "dbm": -44.1}, {"freq": 2152.82, "dbm": -43.3}, {"freq": 2153.01, "dbm": -44.9}, {"freq": 2153.21, "dbm": -46.6}, {"freq": 2153.40, "dbm": -45.8}, {"freq": 2153.59, "dbm": -45.4}, {"freq": 2153.79, "dbm": -44.1}, {"freq": 2153.98, "dbm": -44.5}, {"freq": 2154.37, "dbm": -46.6}, {"freq": 2154.75, "dbm": -48.3}, {"freq": 2155.14, "dbm": -47.8}, {"freq": 2155.53, "dbm": -47.4}, {"freq": 2155.91, "dbm": -46.6}, {"freq": 2156.11, "dbm": -46.2}, {"freq": 2156.30, "dbm": -48.3}, {"freq": 2156.69, "dbm": -49.5}, {"freq": 2157.07, "dbm": -49.1}, {"freq": 2157.46, "dbm": -49.9}, {"freq": 2157.85, "dbm": -48.3}, {"freq": 2158.23, "dbm": -49.5}, {"freq": 2158.62, "dbm": -51.6}, {"freq": 2159.01, "dbm": -50.3}, {"freq": 2159.39, "dbm": -49.9}, {"freq": 2159.78, "dbm": -50.8}, {"freq": 2160.17, "dbm": -49.1}, {"freq": 2160.55, "dbm": -50.8}, {"freq": 2160.94, "dbm": -51.6}, {"freq": 2161.33, "dbm": -50.8}, {"freq": 2161.71, "dbm": -51.6}, {"freq": 2162.10, "dbm": -49.9}, {"freq": 2162.49, "dbm": -52.0}, {"freq": 2162.87, "dbm": -51.6}, {"freq": 2163.26, "dbm": -50.3}, {"freq": 2163.65, "dbm": -51.6}, {"freq": 2164.03, "dbm": -51.2}, {"freq": 2164.42, "dbm": -50.3}, {"freq": 2164.81, "dbm": -51.6}, {"freq": 2165.20, "dbm": -50.8}, {"freq": 2165.58, "dbm": -49.9}, {"freq": 2165.97, "dbm": -52.0}, {"freq": 2166.36, "dbm": -50.8}, {"freq": 2166.74, "dbm": -51.6}, {"freq": 2167.13, "dbm": -52.4}, {"freq": 2167.52, "dbm": -51.6}, {"freq": 2167.90, "dbm": -53.3}, {"freq": 2168.29, "dbm": -52.0}, {"freq": 2168.68, "dbm": -52.8}, {"freq": 2169.06, "dbm": -52.4}, {"freq": 2169.45, "dbm": -53.3}, {"freq": 2169.84, "dbm": -52.4}, {"freq": 2170.22, "dbm": -53.7}, {"freq": 2170.61, "dbm": -53.3}, {"freq": 2170.80, "dbm": -54.1}
    ],
    "logo": [{"label": "SoftPlot"}]
  },
  "hconcat": [
    {
      "vconcat": [
        {
          "width": 471, "height": 346,
          "data": {"name": "tl"},
          "layer": [
            {
              "mark": {"type": "line", "strokeWidth": 1},
              "encoding": {
                "x": {"field": "bias", "type": "quantitative", "scale": {"domain": [0, 30], "nice": false, "zero": false}, "axis": {"title": "drain bias (V)", "values": [0, 5, 10, 15, 20, 25, 30]}},
                "y": {"field": "phase", "type": "quantitative", "scale": {"domain": [-10, 40], "nice": false, "zero": false}, "axis": {"title": "phase (degrees)", "values": [-10, -5, 0, 5, 10, 15, 20, 25, 30, 35, 40]}},
                "color": {"datum": "approximate phase with drain bias", "scale": {"domain": ["approximate phase with drain bias"], "range": ["#0000ff"]}, "legend": {"orient": "top-right", "offset": 6}}
              }
            },
            {
              "mark": {"type": "line", "strokeOpacity": 0},
              "encoding": {
                "x": {"field": "bias", "type": "quantitative", "axis": {"orient": "top", "labels": false, "title": null, "values": [0, 5, 10, 15, 20, 25, 30]}},
                "y": {"field": "phase", "type": "quantitative", "axis": {"orient": "right", "labels": false, "title": null, "values": [-10, -5, 0, 5, 10, 15, 20, 25, 30, 35, 40]}}
              }
            }
          ],
          "resolve": {"axis": {"x": "independent", "y": "independent"}}
        },
        {
          "width": 472, "height": 346,
          "layer": [
            {
              "data": {"name": "ref"},
              "mark": {"type": "line", "strokeWidth": 1},
              "encoding": {
                "x": {"field": "freq", "type": "quantitative", "scale": {"domain": [-30.72, 30.72], "nice": false, "zero": false}, "axis": {"title": "frequency (MHz)", "values": [-30, -20, -10, 0, 10, 20, 30]}},
                "y": {"field": "power", "type": "quantitative", "scale": {"domain": [-100, 0], "nice": false, "zero": false}, "axis": {"title": "power (dBFS)", "values": [-100, -90, -80, -70, -60, -50, -40, -30, -20, -10, 0]}},
                "color": {"datum": "spectrum of reference", "scale": {"domain": ["spectrum of reference", "spectrum of phase modulation"], "range": ["#0000ff", "#ff0000"]}, "legend": {"orient": "top-right", "offset": 6}}
              }
            },
            {
              "data": {"name": "pm"},
              "mark": {"type": "line", "strokeWidth": 1},
              "encoding": {
                "x": {"field": "freq", "type": "quantitative", "axis": null},
                "y": {"field": "power", "type": "quantitative", "axis": null},
                "color": {"datum": "spectrum of phase modulation"}
              }
            },
            {
              "data": {"name": "pm"},
              "mark": {"type": "line", "strokeOpacity": 0},
              "encoding": {
                "x": {"field": "freq", "type": "quantitative", "axis": {"orient": "top", "labels": false, "title": null, "values": [-30, -20, -10, 0, 10, 20, 30]}},
                "y": {"field": "power", "type": "quantitative", "axis": {"orient": "right", "labels": false, "title": null, "values": [-100, -90, -80, -70, -60, -50, -40, -30, -20, -10, 0]}}
              }
            }
          ],
          "resolve": {"axis": {"x": "independent", "y": "independent"}}
        }
      ],
      "spacing": 116,
      "bounds": "flush",
      "resolve": {"scale": {"color": "independent"}, "legend": {"color": "independent"}}
    },
    {
      "vconcat": [
        {
          "width": 471, "height": 346,
          "data": {"name": "tr"},
          "layer": [
            {
              "mark": {"type": "line", "strokeWidth": 1},
              "encoding": {
                "x": {"field": "pout", "type": "quantitative", "scale": {"domain": [-50, 10], "nice": false, "zero": false}, "axis": {"title": "Pout (dB)", "values": [-50, -40, -30, -20, -10, 0, 10]}},
                "y": {"field": "phase", "type": "quantitative", "scale": {"domain": [-25, 25], "nice": false, "zero": false}, "axis": {"title": "phase modulation (degrees)", "values": [-25, -20, -15, -10, -5, 0, 5, 10, 15, 20, 25]}},
                "color": {"datum": "phase modulation with output power envelope", "scale": {"domain": ["phase modulation with output power envelope"], "range": ["#000000"]}, "legend": {"orient": "bottom-left", "offset": 5}}
              }
            },
            {
              "mark": {"type": "line", "strokeOpacity": 0},
              "encoding": {
                "x": {"field": "pout", "type": "quantitative", "axis": {"orient": "top", "labels": false, "title": null, "values": [-50, -40, -30, -20, -10, 0, 10]}},
                "y": {"field": "phase", "type": "quantitative", "axis": {"orient": "right", "labels": false, "title": null, "values": [-25, -20, -15, -10, -5, 0, 5, 10, 15, 20, 25]}}
              }
            }
          ],
          "resolve": {"axis": {"x": "independent", "y": "independent"}}
        },
        {
          "width": 530, "height": 398,
          "view": {"stroke": "#444", "strokeWidth": 1.5},
          "layer": [
            {
              "data": {"name": "nonmem"},
              "mark": {"type": "line", "strokeWidth": 1},
              "encoding": {
                "x": {"field": "freq", "type": "quantitative", "scale": {"domain": [2109.4, 2170.9], "nice": false, "zero": false},
                  "axis": {"values": [2109.4, 2115.55, 2121.7, 2127.85, 2134, 2140.15, 2146.3, 2152.45, 2158.6, 2164.75, 2170.9], "tickCount": 30, "title": null, "grid": true, "gridColor": "#d0d0d0", "gridWidth": 1.5, "ticks": false, "labelExpr": "datum.value < 2110 ? 'Start: 2.1094 GHz' : (datum.value > 2170 ? 'Stop: 2.1709 GHz' : '')", "labelAlign": {"condition": {"test": "datum.value < 2110", "value": "left"}, "value": "right"}, "labelPadding": 11, "labelFontSize": 15, "labelColor": "#444", "labelBound": false}},
                "y": {"field": "dbm", "type": "quantitative", "scale": {"domain": [-77, 23], "nice": false, "zero": false},
                  "axis": {"values": [-77, -67, -57, -47, -37, -27, -17, -7, 3, 13, 23], "tickCount": 30, "grid": true, "gridColor": "#d0d0d0", "gridWidth": 1.5, "ticks": false, "labelPadding": 9, "labelFontSize": 15, "labelColor": "#444", "title": "dBm", "titleAngle": 0, "titleAlign": "left", "titleBaseline": "middle", "titleX": -60, "titleY": -26, "titleFontSize": 15, "titleColor": "#444"}},
                "color": {"datum": "Non Mem", "scale": {"domain": ["Non Mem", "Full DPD", "No DPD"], "range": ["#111111", "#2222ff", "#33ee55"]},
                  "legend": {"orient": "top", "direction": "horizontal", "offset": 4, "padding": 0, "strokeColor": "transparent", "fillColor": "transparent", "symbolType": "M -7 15 L 40 15", "symbolSize": 4, "symbolStrokeWidth": 1.5, "symbolOffset": 0, "labelOffset": -15, "columnPadding": 16, "clipHeight": 0, "labelFontSize": 15, "labelColor": "#444"}}
              }
            },
            {
              "data": {"name": "fulldpd"},
              "mark": {"type": "line", "strokeWidth": 1},
              "encoding": {
                "x": {"field": "freq", "type": "quantitative"},
                "y": {"field": "dbm", "type": "quantitative"},
                "color": {"datum": "Full DPD"}
              }
            },
            {
              "data": {"name": "nodpd"},
              "mark": {"type": "line", "strokeWidth": 1},
              "encoding": {
                "x": {"field": "freq", "type": "quantitative"},
                "y": {"field": "dbm", "type": "quantitative"},
                "color": {"datum": "No DPD"}
              }
            },
            {
              "data": {"name": "logo"},
              "mark": {"type": "rule", "color": "black", "strokeWidth": 2},
              "encoding": {
                "x": {"datum": 2159.63, "type": "quantitative"},
                "y": {"datum": -75.1, "type": "quantitative"},
                "x2": {"datum": 2169.6},
                "y2": {"datum": -62.5}
              }
            },
            {
              "data": {"name": "logo"},
              "mark": {"type": "text", "font": "DejaVu Sans", "fontWeight": "bold", "fontSize": 19, "color": "black", "align": "center", "baseline": "middle"},
              "encoding": {
                "text": {"field": "label"},
                "x": {"datum": 2164.44, "type": "quantitative"},
                "y": {"datum": -71.1, "type": "quantitative"}
              }
            }
          ]
        }
      ],
      "spacing": 81,
      "bounds": "flush",
      "center": true,
      "resolve": {"scale": {"color": "independent"}, "legend": {"color": "independent"}}
    }
  ],
  "spacing": 58,
  "resolve": {"scale": {"color": "independent"}, "legend": {"color": "independent"}}
}
